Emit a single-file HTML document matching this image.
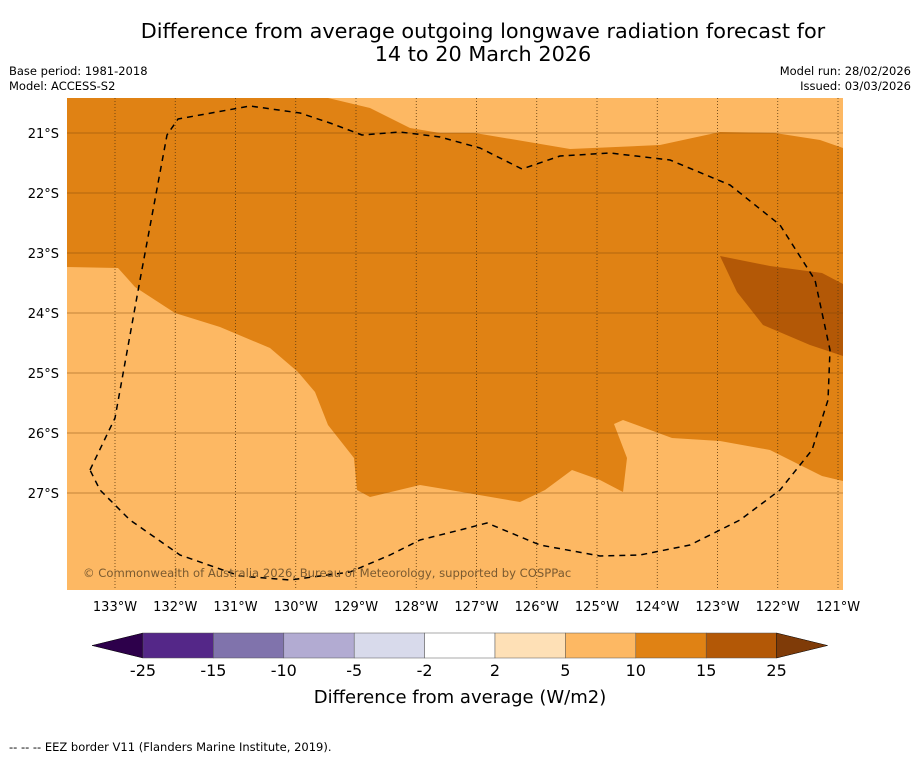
<!DOCTYPE html>
<html><head><meta charset="utf-8"><style>
body{margin:0;background:#fff;width:919px;height:758px;overflow:hidden;font-family:"Liberation Sans","DejaVu Sans",sans-serif}
svg text{font-family:"DejaVu Sans","Liberation Sans",sans-serif}
</style></head><body>
<svg id="c" width="919" height="758">
<text x="483" y="38" font-size="20.8" text-anchor="middle">Difference from average outgoing longwave radiation forecast for</text>
<text x="483" y="61" font-size="20.8" text-anchor="middle">14 to 20 March 2026</text>
<text x="9" y="75" font-size="11.5">Base period: 1981-2018</text>
<text x="9" y="90" font-size="11.5">Model: ACCESS-S2</text>
<text x="911" y="75" font-size="11.5" text-anchor="end">Model run: 28/02/2026</text>
<text x="911" y="90" font-size="11.5" text-anchor="end">Issued: 03/03/2026</text>
<g>
<rect x="67" y="98" width="776" height="492" fill="#e08214"/>
<polygon fill="#fdb863" points="328,98 370,108 410,128 440,133 475,133 570,149 660,145 720,132 775,133 820,140 843,148 843,98"/>
<polygon fill="#fdb863" points="67,267 118,268 135,287 175,313 220,327 270,348 298,372 315,392 328,425 354,458 357,490 370,497 395,491 420,485 450,490 520,502 545,490 572,470 600,480 623,492 627,458 614,424 623,420 672,438 720,441 770,450 800,465 822,476 843,481 843,590 67,590"/>
<polygon fill="#b35806" points="720,256 770,266 822,273 843,284 843,356 810,345 763,325 737,292"/>
<g id="grid"></g>
<polyline fill="none" stroke="#000" stroke-width="1.5" stroke-dasharray="6,5" stroke-linejoin="round" points="90,470 115,418 140,280 167,135 178,119 250,106 300,113 330,123 362,135 400,132 440,137 480,148 522,169 560,156 610,153 670,160 730,185 780,225 815,280 830,350 828,400 812,450 780,490 740,520 690,545 640,555 600,556 540,545 487,523 460,530 420,540 390,555 350,572 290,580 240,576 180,555 130,520 100,490 90,470"/>
<text x="83" y="577" font-size="11.6" fill="#7a5a30">© Commonwealth of Australia 2026, Bureau of Meteorology, supported by COSPPac</text>
</g>
<g id="axes"></g>
<g id="cbar"></g>
<text x="460" y="703" font-size="18" text-anchor="middle">Difference from average (W/m2)</text>
<text x="9" y="751" font-size="11.5">--  --  -- EEZ border V11 (Flanders Marine Institute, 2019).</text>
</svg>
<script>
const lonTicks=[133,132,131,130,129,128,127,126,125,124,123,122,121];
const latTicks=[21,22,23,24,25,26,27];
const levels=["-25","-15","-10","-5","-2","2","5","10","15","25"];
const levelColors=["#542788","#8073ac","#b2abd2","#d8daeb","#ffffff","#fee0b6","#fdb863","#e08214","#b35806"];
const ns="http://www.w3.org/2000/svg";
const X=l=>115+(133-l)*60.25, Y=l=>133+(l-21)*60;
function mk(t,a,p){const e=document.createElementNS(ns,t);for(const k in a)e.setAttribute(k,a[k]);p.appendChild(e);return e;}
const grid=document.getElementById('grid'),axes=document.getElementById('axes'),cb=document.getElementById('cbar');
lonTicks.forEach(l=>{const x=X(l);
 const g=mk('line',{x1:x,x2:x,y1:98,y2:590,stroke:'#5a3a10','stroke-width':0.8,'stroke-dasharray':'1,2'},grid);
 
 
 const t=mk('text',{x:x,y:611,'font-size':13,'text-anchor':'middle'},axes);t.textContent=l+'°W';
 
 });
latTicks.forEach(l=>{const y=Y(l);
 const g=mk('line',{x1:67,x2:843,y1:y,y2:y,stroke:'#7a4508','stroke-width':0.8,'stroke-opacity':0.6},grid);
 
 
 const t=mk('text',{x:59,y:y+5,'font-size':13,'text-anchor':'end'},axes);t.textContent=l+'°S';
 
 });
const bx=143,bw=70.4,by=633,bh=25;
const lt=mk('polygon',{points:`92,${by+bh/2} ${bx},${by} ${bx},${by+bh}`,fill:'#2d004b',stroke:'#000','stroke-width':0.5},cb);


levelColors.forEach((c,i)=>{const r=mk('rect',{x:bx+i*bw,y:by,width:bw,height:bh,fill:c,stroke:'#555','stroke-width':0.5},cb);
 
 });
const ex=bx+levelColors.length*bw;
const rt=mk('polygon',{points:`${ex},${by} ${ex+51},${by+bh/2} ${ex},${by+bh}`,fill:'#7f3b08',stroke:'#000','stroke-width':0.5},cb);


levels.forEach((v,i)=>{const t=mk('text',{x:bx+i*bw,y:676,'font-size':16,'text-anchor':'middle'},cb);t.textContent=v;
 
 });
</script>
</body></html>
